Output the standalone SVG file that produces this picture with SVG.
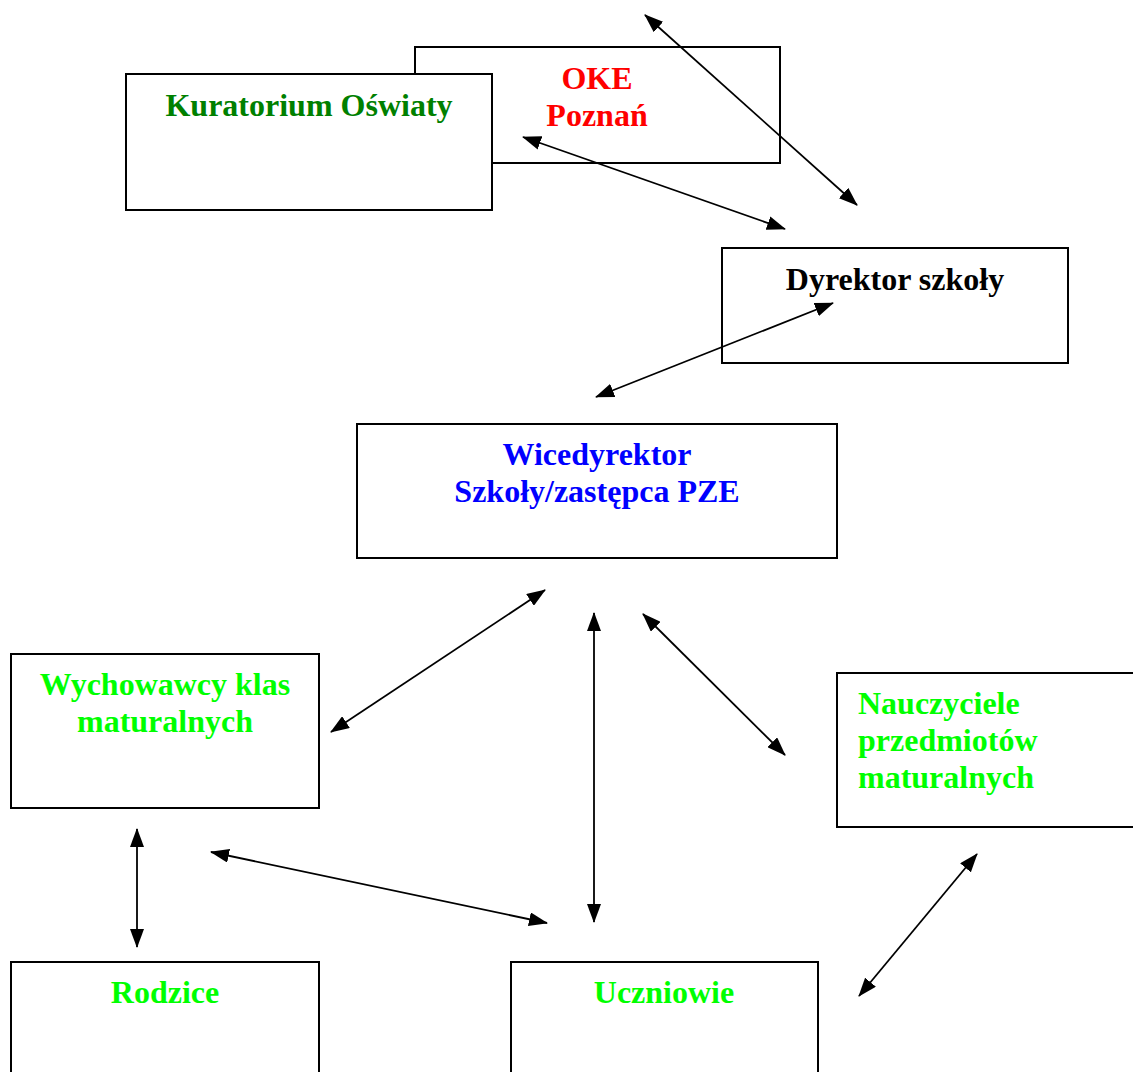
<svg xmlns="http://www.w3.org/2000/svg" width="1133" height="1072" viewBox="0 0 1133 1072">
<defs>
<marker id="ah" markerUnits="userSpaceOnUse" markerWidth="19" markerHeight="14" viewBox="0 0 19 14" refX="18" refY="7" orient="auto-start-reverse">
<path d="M0,0 L19,7 L0,14 Z" fill="#000"/>
</marker>
<style>
.box{fill:#fff;stroke:#000;stroke-width:2}
.t{font-family:"Liberation Serif","Times New Roman",serif;font-weight:bold;font-size:32px;text-anchor:middle}
.l{text-anchor:start}
.c{stroke:#000;stroke-width:1.8;fill:none;marker-start:url(#ah);marker-end:url(#ah)}
</style>
</defs>
<rect width="1133" height="1072" fill="#fff"/>
<g id="oke"><rect class="box" x="415" y="47" width="365" height="116"/><text class="t" x="597" y="89" fill="#ff0000">OKE</text><text class="t" x="597" y="126" fill="#ff0000">Poznań</text></g>
<g id="kuratorium"><rect class="box" x="126" y="74" width="366" height="136"/><text class="t" x="309" y="116" fill="#008000">Kuratorium Oświaty</text></g>
<g id="dyrektor"><rect class="box" x="722" y="248" width="346" height="115"/><text class="t" x="895" y="290" fill="#000">Dyrektor szkoły</text></g>
<g id="wicedyrektor"><rect class="box" x="357" y="424" width="480" height="134"/><text class="t" x="597" y="465" fill="#0000ff">Wicedyrektor</text><text class="t" x="597" y="502" fill="#0000ff">Szkoły/zastępca PZE</text></g>
<g id="wychowawcy"><rect class="box" x="11" y="654" width="308" height="154"/><text class="t" x="165" y="695" fill="#00ff00">Wychowawcy klas</text><text class="t" x="165" y="732" fill="#00ff00">maturalnych</text></g>
<g id="nauczyciele"><rect class="box" x="837" y="673" width="310" height="154"/><text class="t l" x="858" y="714" fill="#00ff00">Nauczyciele</text><text class="t l" x="858" y="751" fill="#00ff00">przedmiotów</text><text class="t l" x="858" y="788" fill="#00ff00">maturalnych</text></g>
<g id="rodzice"><rect class="box" x="11" y="962" width="308" height="130"/><text class="t" x="165" y="1003" fill="#00ff00">Rodzice</text></g>
<g id="uczniowie"><rect class="box" x="511" y="962" width="307" height="130"/><text class="t" x="664" y="1003" fill="#00ff00">Uczniowie</text></g>
<g id="connectors">
<line class="c" x1="645" y1="15" x2="857" y2="205"/>
<line class="c" x1="523" y1="137" x2="785" y2="229"/>
<line class="c" x1="833" y1="303" x2="596" y2="397"/>
<line class="c" x1="545" y1="590" x2="331" y2="732"/>
<line class="c" x1="594" y1="613" x2="594" y2="922"/>
<line class="c" x1="643" y1="614" x2="785" y2="755"/>
<line class="c" x1="137" y1="829" x2="137" y2="947"/>
<line class="c" x1="211" y1="852" x2="547" y2="923"/>
<line class="c" x1="977" y1="854" x2="859" y2="996"/>
</g>
</svg>
